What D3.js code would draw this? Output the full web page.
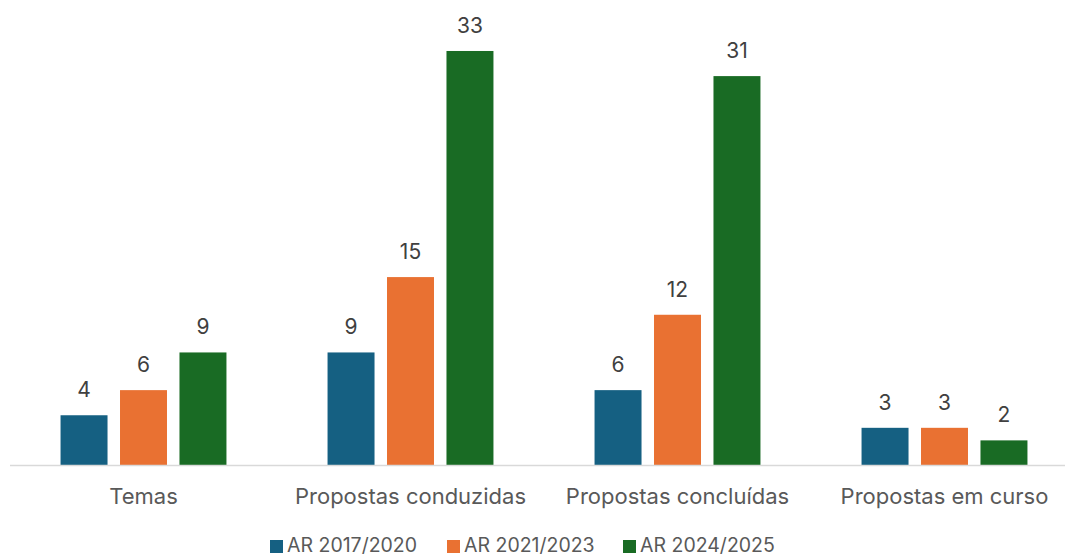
<!DOCTYPE html>
<html><head><meta charset="utf-8">
<script src="https://cdn.jsdelivr.net/npm/d3@7"></script>
<style>body{margin:0;background:#fff}svg{display:block}text{font-family:Inter,Roboto,sans-serif;fill:#595959}</style>
</head><body>
<svg id="c" width="1065" height="557"></svg>
<script>
const categories = ["Temas", "Propostas conduzidas", "Propostas concluídas", "Propostas em curso"];
const seriesNames = ["AR 2017/2020", "AR 2021/2023", "AR 2024/2025"];
const s2017 = [4, 9, 6, 3];
const s2021 = [6, 15, 12, 3];
const s2024 = [9, 33, 31, 2];
const colors = ["#156082", "#E97132", "#196B24"];

const seriesVals = [s2017, s2021, s2024];
const data = categories.map((c, i) => ({cat: c, vals: seriesVals.map((s, j) => ({key: seriesNames[j], v: s[i], j}))}));

const svg = d3.select("#c");
const base = 465.5;
const y = d3.scaleLinear().domain([0, 36]).range([base, 13.3]);
const x0 = d3.scaleBand().domain(categories).range([10, 1078]).paddingInner(0).paddingOuter(0);
const x1 = d3.scaleBand().domain(seriesNames).range([0, x0.bandwidth()]).paddingInner(0.21).paddingOuter(0.85);

const g = svg.selectAll("g.grp").data(data).join("g").attr("class","grp")
  .attr("transform", d => `translate(${x0(d.cat)},0)`);
g.selectAll("rect").data(d => d.vals).join("rect")
  .attr("x", d => x1(d.key)).attr("width", x1.bandwidth())
  .attr("y", d => y(d.v)).attr("height", d => base - y(d.v))
  .attr("fill", d => colors[d.j]);
g.selectAll("text.lbl").data(d => d.vals).join("text").attr("class","lbl")
  .attr("x", d => x1(d.key) + x1.bandwidth()/2).attr("y", d => y(d.v) - 18)
  .attr("text-anchor","middle").attr("font-size", 21).style("fill","#404040").text(d => d.v);

svg.append("line").attr("x1", 10).attr("x2", 1065).attr("y1", base).attr("y2", base)
  .attr("stroke", "#d9d9d9").attr("stroke-width", 1.5);

const xAxis = d3.axisBottom(x0).tickSize(0).tickPadding(0);
const ax = svg.append("g").attr("transform", `translate(0,${base})`).call(xAxis);
ax.select(".domain").remove();
ax.selectAll("text").attr("y", 38.8).attr("dy", null).attr("font-size", 22).style("fill","#595959").style("font-family","Inter,Roboto,sans-serif");

const legX = [270, 447, 623];
const leg = svg.selectAll("g.leg").data(seriesNames).join("g").attr("class","leg")
  .attr("transform", (d, i) => `translate(${legX[i]},0)`);
leg.append("rect").attr("x", 0).attr("y", 540).attr("width", 13).attr("height", 13).attr("fill", (d, i) => colors[i]);
leg.append("text").attr("x", 17).attr("y", 552).attr("font-size", 19.5).text(d => d);
</script>
</body></html>
